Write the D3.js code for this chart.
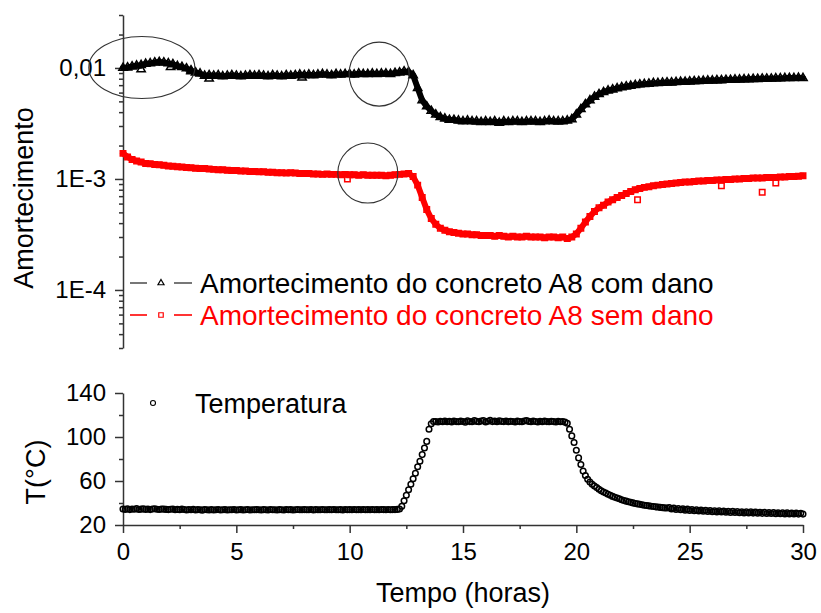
<!DOCTYPE html>
<html>
<head>
<meta charset="utf-8">
<script src="https://cdn.jsdelivr.net/npm/d3@7"></script>
<style>
  html, body { margin: 0; padding: 0; background: #fff; }
  svg { display: block; font-family: "Liberation Sans", Arial, sans-serif; }
</style>
</head>
<body>
<svg id="chart" width="821" height="613"></svg>
<script>
// Damping series sampled every 0.2 h, values in units of 1e-3
const SAMPLE_H = 0.2;
const DAMP_UNIT = 1e-3;

const comDano = [
  10.0, 10.1, 10.3, 10.5, 10.6, 10.9, 11.0, 11.2, 11.3, 11.2,
  11.0, 10.8, 10.4, 10.2, 9.9, 9.5, 9.1, 8.9, 8.5, 8.6,
  8.5, 8.6, 8.4, 8.5, 8.6, 8.5, 8.4, 8.5, 8.6, 8.5,
  8.6, 8.5, 8.4, 8.6, 8.5, 8.4, 8.6, 8.5, 8.6, 8.7,
  8.6, 8.7, 8.6, 8.7, 8.8, 8.7, 8.6, 8.8, 8.7, 8.8,
  8.8, 8.7, 8.9, 8.8, 8.8, 8.9, 8.8, 8.9, 8.9, 8.8,
  9.0, 9.1, 9.3, 9.2, 8.6, 6.6, 5.1, 4.5, 4.1, 3.8,
  3.6, 3.5, 3.4, 3.4, 3.35, 3.3, 3.35, 3.3, 3.3, 3.25,
  3.3, 3.25, 3.3, 3.2, 3.3, 3.25, 3.3, 3.3, 3.25, 3.3,
  3.3, 3.3, 3.25, 3.3, 3.35, 3.3, 3.3, 3.3, 3.35, 3.45,
  3.8, 4.25, 4.7, 5.1, 5.5, 5.8, 6.05, 6.25, 6.4, 6.55,
  6.7, 6.8, 6.9, 7.0, 7.1, 7.15, 7.2, 7.3, 7.3, 7.35,
  7.4, 7.4, 7.45, 7.5, 7.5, 7.55, 7.6, 7.6, 7.65, 7.7,
  7.7, 7.75, 7.75, 7.8, 7.8, 7.85, 7.85, 7.9, 7.9, 7.95,
  7.95, 8.0, 8.0, 8.0, 8.05, 8.05, 8.1, 8.1, 8.1, 8.15, 8.1
];

const semDano = [
  1.70, 1.58, 1.50, 1.45, 1.42, 1.38, 1.37, 1.35, 1.34, 1.33,
  1.31, 1.30, 1.29, 1.28, 1.27, 1.26, 1.25, 1.24, 1.24, 1.23,
  1.22, 1.21, 1.21, 1.20, 1.19, 1.19, 1.18, 1.18, 1.17, 1.17,
  1.16, 1.16, 1.15, 1.15, 1.14, 1.14, 1.13, 1.14, 1.13, 1.12,
  1.12, 1.12, 1.11, 1.11, 1.10, 1.11, 1.10, 1.10, 1.09, 1.10,
  1.09, 1.09, 1.08, 1.09, 1.08, 1.08, 1.08, 1.08, 1.07, 1.08,
  1.09, 1.10, 1.11, 1.12, 1.05, 0.88, 0.68, 0.53, 0.44, 0.39,
  0.36, 0.345, 0.335, 0.33, 0.325, 0.32, 0.32, 0.315, 0.315, 0.31,
  0.31, 0.31, 0.305, 0.31, 0.305, 0.30, 0.305, 0.30, 0.30, 0.305,
  0.30, 0.30, 0.30, 0.295, 0.30, 0.30, 0.295, 0.30, 0.29, 0.30,
  0.32, 0.36, 0.41, 0.46, 0.51, 0.55, 0.58, 0.62, 0.65, 0.68,
  0.71, 0.74, 0.77, 0.80, 0.82, 0.84, 0.85, 0.87, 0.88, 0.89,
  0.90, 0.91, 0.92, 0.93, 0.94, 0.94, 0.95, 0.96, 0.96, 0.97,
  0.97, 0.98, 0.98, 0.99, 0.99, 1.00, 1.00, 1.01, 1.01, 1.02,
  1.02, 1.02, 1.03, 1.03, 1.03, 1.04, 1.04, 1.05, 1.05, 1.06, 1.07
];

// Scattered readings off the main trend: [hours, damping x 1e-3]
const comDanoOutliers = [[0.8, 9.7], [2.1, 10.2], [3.0, 9.3], [3.8, 8.0], [7.9, 8.2]];
const semDanoOutliers = [[9.9, 1.00], [22.7, 0.65], [26.4, 0.87], [28.2, 0.76], [28.8, 0.92]];

// Temperature sampled every 0.1 h, in degrees Celsius
const TEMP_SAMPLE_H = 0.1;
const temperatura = [
  34.5, 34.2, 34.8, 34.0, 34.6, 34.3, 34.9, 34.1, 34.4, 34.7,
  34.2, 34.6, 34.0, 34.5, 34.8, 34.3, 34.1, 34.6, 34.4, 34.2,
  34.0, 34.3, 34.5, 33.9, 34.2, 33.8, 34.4, 34.1, 33.7, 34.0,
  33.8, 34.2, 33.6, 34.0, 33.9, 33.5, 34.1, 33.8, 33.7, 34.0,
  33.6, 33.9, 34.1, 33.7, 33.8, 34.0, 33.6, 33.9, 33.8, 34.1,
  33.7, 33.9, 34.0, 33.6, 33.8, 34.1, 33.7, 33.9, 33.8, 34.0,
  33.8, 33.6, 34.0, 33.9, 33.7, 34.1, 33.8, 33.9, 33.6, 34.0,
  33.9, 33.7, 34.1, 33.8, 34.0, 33.7, 33.9, 34.1, 33.8, 33.9,
  34.0, 33.8, 33.9, 34.1, 33.7, 34.0, 33.9, 33.8, 34.1, 33.9,
  33.8, 34.0, 33.9, 34.1, 33.8, 33.9, 34.0, 33.7, 34.1, 33.9,
  34.0, 33.8, 34.1, 33.9, 34.0, 33.8, 34.1, 33.9, 34.0, 33.8,
  34.1, 33.9, 34.0, 33.8, 34.1, 34.0, 33.9, 34.1, 33.8, 34.0,
  34.0, 34.2, 34.5, 37.0, 42.0, 47.0, 52.0, 57.0, 62.0, 67.0,
  73.0, 78.0, 84.0, 90.0, 96.0, 107.0, 112.0, 114.0,
  114.0, 113.6, 114.3, 113.8, 114.5, 113.9, 114.2, 113.7, 114.6, 114.0,
  113.8, 114.4, 114.1, 113.5, 114.7, 114.0, 113.9, 115.0, 114.2, 113.8,
  114.5, 114.9, 113.7, 114.3, 115.2, 114.0, 114.6, 113.9, 114.8, 114.2,
  114.0, 114.5, 113.8, 114.3, 114.1, 113.6, 114.4, 114.0, 113.9, 114.6,
  115.0, 114.2, 113.8, 114.5, 114.1, 113.7, 114.3, 113.9, 114.6, 114.0,
  113.8, 114.3, 114.0, 113.6, 114.2, 113.9, 114.1, 113.5,
  112.5, 107.0, 101.0, 95.0, 88.0, 81.0, 75.0, 69.0, 65.0, 61.5,
  59.0, 57.0, 55.5, 54.0, 52.5, 51.2, 50.0, 49.0, 48.0, 47.0,
  46.0, 45.2, 44.5, 43.8, 43.0, 42.3, 41.7, 41.1, 40.6, 40.1,
  39.6, 39.2, 38.8, 38.4, 38.0, 37.7, 37.4, 37.1, 36.8, 36.5,
  36.3, 36.0, 35.8, 35.6, 35.4,
  35.8, 34.6, 35.3, 34.1, 35.0, 33.8, 34.8, 33.5, 34.4, 33.2,
  34.1, 33.0, 33.9, 32.7, 33.6, 32.5, 33.4, 32.3, 33.2, 32.1,
  33.0, 31.9, 32.8, 31.8, 32.7, 31.6, 32.5, 31.4, 32.4, 31.3,
  32.2, 31.2, 32.1, 31.0, 32.0, 30.9, 31.9, 30.8, 31.7, 30.7,
  31.6, 30.6, 31.5, 30.5, 31.4, 30.4, 31.3, 30.3, 31.2, 30.2,
  31.1, 30.1, 31.0, 30.0, 30.9, 30.0, 30.8, 29.9, 30.7, 29.9
];

// Axis ticks
const xMajor = [0, 5, 10, 15, 20, 25, 30];
const xMinor = [2.5, 7.5, 12.5, 17.5, 22.5, 27.5];
const dampMajor = [1e-4, 1e-3, 1e-2];
const dampLabels = ["1E-4", "1E-3", "0,01"];
const tempMajor = [20, 60, 100, 140];
const tempMinor = [40, 80, 120];

const legendLabels = ["Amortecimento do concreto A8 com dano", "Amortecimento do concreto A8 sem dano"];
const colors = { com: "#000000", sem: "#ff0000", axis: "#333333" };

const svg = d3.select("#chart");

// Scales
const x = d3.scaleLinear().domain([0, 30]).range([123, 803]);
const yDamp = d3.scaleLog().domain([3e-5, 0.03]).range([348, 15]);
const yTemp = d3.scaleLinear().domain([20, 140]).range([525, 393]);

const FONT_TICK = 24;
const FONT_LABEL = 27;
const FONT_LEGEND = 28;

function styleAxis(g) {
  g.selectAll(".domain").attr("stroke", colors.axis).attr("stroke-width", 1.5);
  g.selectAll(".tick line").attr("stroke", colors.axis).attr("stroke-width", 1.5);
  g.selectAll(".tick text").attr("fill", "#000").style("font-size", FONT_TICK + "px")
    .style("font-family", '"Liberation Sans", Arial, sans-serif');
}

// ---- Top panel: damping (log scale) ----
const dampMinor = [];
[1e-5, 1e-4, 1e-3, 1e-2].forEach(dec => {
  for (let k = 2; k <= 9; k++) {
    const v = k * dec;
    if (v >= 3e-5 && v <= 0.03 + 1e-12) dampMinor.push(v);
  }
});

svg.append("g").attr("transform", "translate(123,0)")
  .call(d3.axisLeft(yDamp).tickValues(dampMinor).tickSize(4).tickSizeOuter(0).tickFormat(""))
  .call(styleAxis);
svg.append("g").attr("transform", "translate(123,0)")
  .call(d3.axisLeft(yDamp).tickValues(dampMajor).tickSize(8).tickSizeOuter(0).tickPadding(9)
    .tickFormat((d, i) => dampLabels[i]))
  .call(styleAxis)
  .call(g => g.select(".domain").remove());

svg.append("text")
  .attr("transform", "translate(33,198) rotate(-90)")
  .attr("text-anchor", "middle")
  .style("font-size", FONT_LABEL + "px")
  .text("Amortecimento");

const hoursDamp = comDano.map((_, i) => i * SAMPLE_H);
const comPts = comDano.map((v, i) => [hoursDamp[i], v * DAMP_UNIT]);
const semPts = semDano.map((v, i) => [hoursDamp[i], v * DAMP_UNIT]);

const dampLine = d3.line().x(d => x(d[0])).y(d => yDamp(d[1]));
const triangle = d3.symbol(d3.symbolTriangle, 30)();
const square = d3.symbol(d3.symbolSquare, 30)();
const triangleLegend = d3.symbol(d3.symbolTriangle, 16)();
const squareLegend = d3.symbol(d3.symbolSquare, 20)();

// Dense readings: a thick trace under outlined markers
function drawSeries(pts, outliers, color, shape) {
  const g = svg.append("g");
  g.append("path").datum(pts)
    .attr("d", dampLine)
    .attr("fill", "none").attr("stroke", color).attr("stroke-width", 6)
    .attr("stroke-linejoin", "round").attr("stroke-linecap", "round");
  const all = pts.concat(outliers.map(o => [o[0], o[1] * DAMP_UNIT]));
  g.selectAll("path.mk").data(all).join("path")
    .attr("class", "mk")
    .attr("d", shape)
    .attr("transform", d => `translate(${x(d[0])},${yDamp(d[1])})`)
    .attr("fill", "none").attr("stroke", color).attr("stroke-width", 1.5);
}
drawSeries(semPts, semDanoOutliers, colors.sem, square);
drawSeries(comPts, comDanoOutliers, colors.com, triangle);

// Highlight ellipses
const marks = svg.append("g").attr("fill", "none").attr("stroke", "#333").attr("stroke-width", 1.1);
marks.append("ellipse").attr("cx", x(0.83)).attr("cy", yDamp(0.0101)).attr("rx", 53).attr("ry", 31);
marks.append("ellipse").attr("cx", x(11.3)).attr("cy", yDamp(0.0088)).attr("rx", 30).attr("ry", 32);
marks.append("ellipse").attr("cx", x(10.8)).attr("cy", yDamp(0.00113)).attr("rx", 30).attr("ry", 30);

// Legend for damping
const legend = svg.append("g");
const legendRows = [
  { label: legendLabels[0], color: colors.com, line: "#555", shape: triangleLegend, y: 283 },
  { label: legendLabels[1], color: colors.sem, line: colors.sem, shape: squareLegend, y: 315 }
];
legendRows.forEach(r => {
  legend.append("line").attr("x1", 130).attr("x2", 147).attr("y1", r.y).attr("y2", r.y)
    .attr("stroke", r.line).attr("stroke-width", 1.6);
  legend.append("line").attr("x1", 174).attr("x2", 192).attr("y1", r.y).attr("y2", r.y)
    .attr("stroke", r.line).attr("stroke-width", 1.6);
  legend.append("path").attr("d", r.shape).attr("transform", `translate(161,${r.y})`)
    .attr("fill", "none").attr("stroke", r.color).attr("stroke-width", 1.2);
  legend.append("text").attr("x", 200).attr("y", r.y + 10)
    .attr("fill", r.color).style("font-size", FONT_LEGEND + "px").text(r.label);
});

// ---- Bottom panel: temperature ----
svg.append("g").attr("transform", "translate(123,0)")
  .call(d3.axisLeft(yTemp).tickValues(tempMinor).tickSize(4).tickSizeOuter(0).tickFormat(""))
  .call(styleAxis);
svg.append("g").attr("transform", "translate(123,0)")
  .call(d3.axisLeft(yTemp).tickValues(tempMajor).tickSize(8).tickSizeOuter(0).tickPadding(9))
  .call(styleAxis)
  .call(g => g.select(".domain").remove());

svg.append("g").attr("transform", "translate(0,525)")
  .call(d3.axisBottom(x).tickValues(xMinor).tickSize(4).tickSizeOuter(0).tickFormat(""))
  .call(styleAxis);
svg.append("g").attr("transform", "translate(0,525)")
  .call(d3.axisBottom(x).tickValues(xMajor).tickSize(8).tickSizeOuter(0).tickPadding(10))
  .call(styleAxis)
  .call(g => g.select(".domain").remove());

svg.append("text")
  .attr("transform", "translate(45,472) rotate(-90)")
  .attr("text-anchor", "middle")
  .style("font-size", FONT_LABEL + "px")
  .text("T(°C)");

svg.append("text")
  .attr("x", 463).attr("y", 602)
  .attr("text-anchor", "middle")
  .style("font-size", FONT_LABEL + "px")
  .text("Tempo (horas)");

const tempPts = temperatura.map((v, i) => [i * TEMP_SAMPLE_H, v]);
svg.append("g").selectAll("circle").data(tempPts).join("circle")
  .attr("cx", d => x(d[0])).attr("cy", d => yTemp(d[1])).attr("r", 2.8)
  .attr("fill", "none").attr("stroke", "#000").attr("stroke-width", 1.5);

// Temperature legend
svg.append("circle").attr("cx", 153).attr("cy", 403).attr("r", 2.5)
  .attr("fill", "none").attr("stroke", "#000").attr("stroke-width", 1.1);
svg.append("text").attr("x", 195).attr("y", 413)
  .style("font-size", FONT_LABEL + "px").text("Temperatura");
</script>
</body>
</html>
